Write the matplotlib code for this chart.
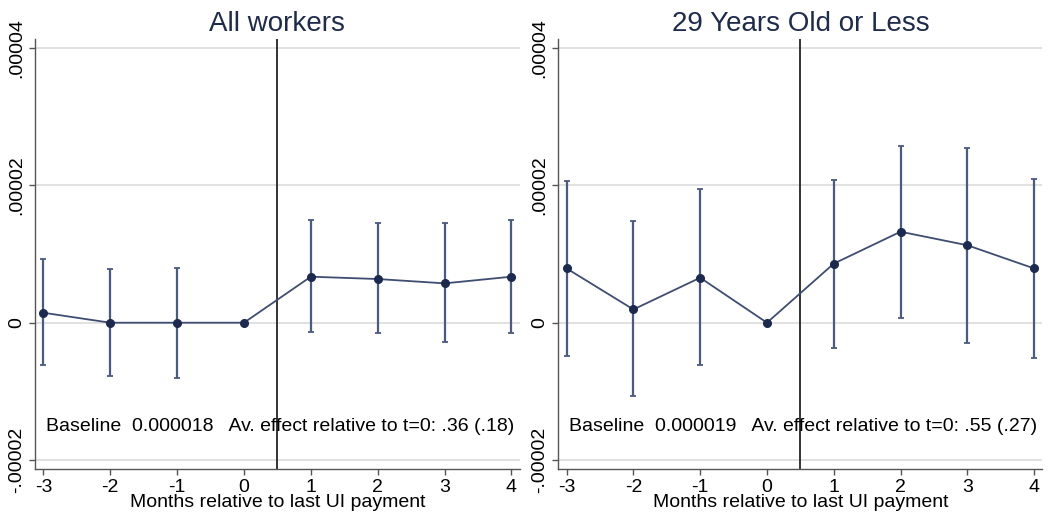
import matplotlib
matplotlib.use("Agg")
import matplotlib.pyplot as plt
import numpy as np

plt.rcParams['font.family'] = ['Liberation Sans', 'DejaVu Sans']

months = [-3, -2, -1, 0, 1, 2, 3, 4]

# coefficients and 95% CI, in units of 1e-5
all_coef = [0.145, 0.0, 0.0, 0.0, 0.67, 0.636, 0.573, 0.67]
all_hi = [0.925, 0.78, 0.80, 0.0, 1.49, 1.446, 1.446, 1.50]
all_lo = [-0.62, -0.78, -0.80, 0.0, -0.14, -0.154, -0.28, -0.15]

young_coef = [0.79, 0.193, 0.655, 0.0, 0.86, 1.325, 1.128, 0.79]
young_hi = [2.07, 1.475, 1.94, 0.0, 2.08, 2.58, 2.55, 2.09]
young_lo = [-0.48, -1.07, -0.61, 0.0, -0.37, 0.063, -0.30, -0.51]

titles = ["All workers", "29 Years Old or Less"]
notes = ["Baseline  0.000018   Av. effect relative to t=0: .36 (.18)",
         "Baseline  0.000019   Av. effect relative to t=0: .55 (.27)"]
ytick_vals = [-0.00002, 0, 0.00002, 0.00004]
ytick_labels = ["-.00002", "0", ".00002", ".00004"]

navy = "#1b2a4e"
bar_col = "#4a5a80"

fig = plt.figure(figsize=(10.48, 5.18), dpi=100)
ax1 = fig.add_axes([0.0334, 0.0946, 0.4626, 0.830])
ax2 = fig.add_axes([0.5327, 0.0946, 0.4620, 0.830])

panels = [(ax1, all_coef, all_lo, all_hi), (ax2, young_coef, young_lo, young_hi)]

for i, (ax, coef, lo, hi) in enumerate(panels):
    x = np.array(months)
    c = np.array(coef) * 1e-5
    l = np.array(lo) * 1e-5
    h = np.array(hi) * 1e-5
    has_ci = h != l
    ax.errorbar(x[has_ci], c[has_ci], yerr=[c[has_ci] - l[has_ci], h[has_ci] - c[has_ci]],
                fmt='none', ecolor=bar_col, elinewidth=1.6, capsize=2.5, capthick=1.3, zorder=2)
    ax.plot(x, c, color="#3e4d72", lw=1.3, zorder=3)
    ax.plot(x, c, 'o', color=navy, ms=5.5, zorder=4)
    ax.axvline(0.5, color="#333333", lw=1.4, zorder=1)

    ax.set_xlim(-3.125, 4.125)
    ax.set_ylim(-0.0000213, 0.0000413)
    ax.set_xticks(months)
    ax.set_xticklabels([str(m) for m in months], fontsize=14)
    ax.set_yticks(ytick_vals)
    ax.set_yticklabels(ytick_labels, fontsize=14, rotation=90, va='center')
    ax.grid(axis='y', color="#dcdcdc", lw=1.2)
    ax.set_axisbelow(True)
    for s in ['top', 'right']:
        ax.spines[s].set_visible(False)
    for s in ['left', 'bottom']:
        ax.spines[s].set_color("#555555")
        ax.spines[s].set_linewidth(1.0)
    ax.tick_params(length=4, width=1, color="#555555", pad=3)
    ax.set_xlabel("Months relative to last UI payment", fontsize=14, labelpad=-1)
    ax.set_title(titles[i], fontsize=20, color="#1e2b4c", pad=6)
    ax.text(-2.96, -0.0000151, notes[i], fontsize=14, va='center', ha='left')

fig.savefig("out.png", dpi=100)
